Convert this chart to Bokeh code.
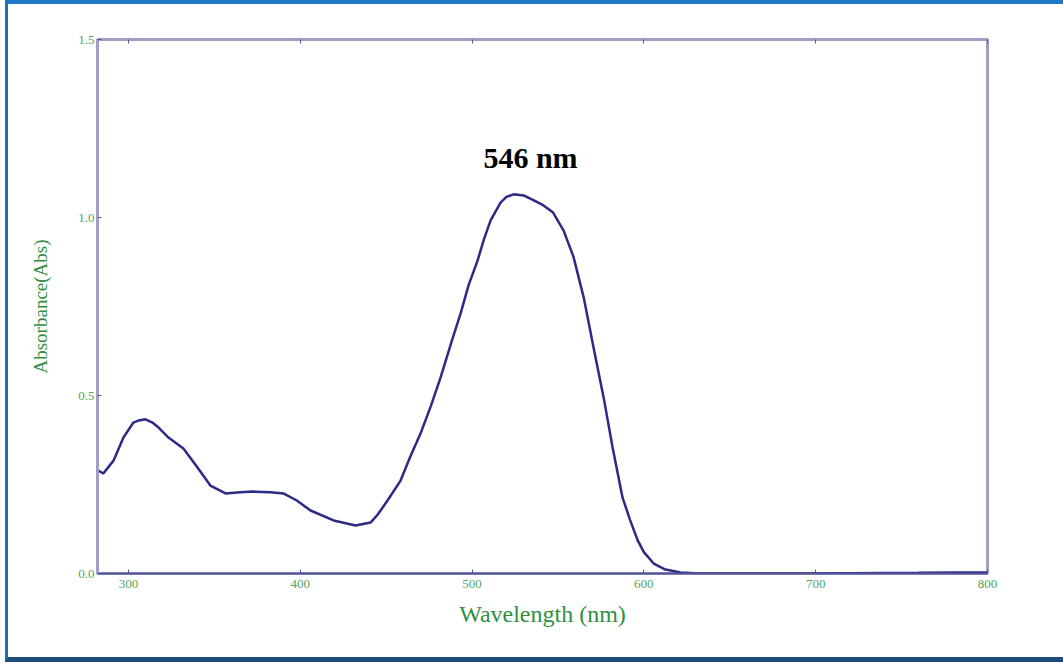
from bokeh.plotting import figure
from bokeh.layouts import column
from bokeh.models import (Range1d, FixedTicker, LinearAxis, Label, NumeralTickFormatter)
from bokeh.embed import file_html
from bokeh.resources import INLINE

# Data
wavelength = [282.5, 285.4, 291.3, 297.1, 302.9, 306.0, 309.9, 314.0, 318.0, 323.3,
              332.0, 340.2, 347.7, 356.5, 365.0, 372.8, 382.7, 390.2, 398.0, 406.0,
              419.4, 432.2, 440.9, 445.0, 450.8, 458.4, 464.2, 470.0, 476.0, 481.7,
              488.0, 493.3, 498.0, 503.2, 507.0, 510.8, 516.6, 520.0, 524.2, 530.0,
              536.0, 541.6, 547.0, 553.3, 559.0, 565.0, 570.7, 576.6, 581.8, 587.6,
              592.0, 596.4, 600.0, 605.7, 612.0, 621.4, 630.0, 640.0, 700.0, 760.0,
              780.0, 800.0]
absorbance = [0.289, 0.281, 0.317, 0.382, 0.424, 0.430, 0.433, 0.424, 0.408, 0.382,
              0.351, 0.298, 0.247, 0.225, 0.228, 0.230, 0.228, 0.225, 0.205, 0.177,
              0.149, 0.135, 0.143, 0.165, 0.205, 0.261, 0.330, 0.393, 0.470, 0.551,
              0.650, 0.730, 0.810, 0.879, 0.940, 0.992, 1.042, 1.058, 1.065, 1.062,
              1.048, 1.034, 1.015, 0.963, 0.890, 0.775, 0.635, 0.494, 0.354, 0.213,
              0.150, 0.093, 0.060, 0.028, 0.012, 0.003, 0.001, 0.000, 0.000, 0.002,
              0.003, 0.003]
x_ticks = [300, 400, 500, 600, 700, 800]
y_ticks = [0.0, 0.5, 1.0, 1.5]
peak_label = "546 nm"

SERIF = "Liberation Serif"
GREEN = "#2f8f3f"
TICK_GREEN = "#4fa85c"
LAVENDER = "#a09ec6"
AXIS_DARK = "#55559a"

p = figure(width=1055, height=653, output_backend="svg", toolbar_location=None,
           x_range=Range1d(282, 800), y_range=Range1d(0, 1.5),
           min_border_left=89, min_border_right=76, min_border_top=35,
           min_border_bottom=84, x_axis_label="Wavelength (nm)",
           y_axis_label="Absorbance(Abs)")
p.grid.visible = False
p.outline_line_color = LAVENDER
p.outline_line_width = 3
p.background_fill_color = "white"
p.border_fill_color = "white"

xa = p.xaxis[0]
xa.ticker = FixedTicker(ticks=x_ticks)
xa.axis_line_color = AXIS_DARK
xa.axis_line_width = 2
xa.major_tick_in = 4
xa.major_tick_out = 0
xa.major_tick_line_color = AXIS_DARK
xa.minor_tick_line_color = None
xa.major_label_text_font = SERIF
xa.major_label_text_font_size = "13px"
xa.major_label_text_color = TICK_GREEN
xa.major_label_standoff = 6
xa.axis_label_text_font = SERIF
xa.axis_label_text_font_style = "normal"
xa.axis_label_text_font_size = "24px"
xa.axis_label_text_color = GREEN
xa.axis_label_standoff = 10

ya = p.yaxis[0]
ya.ticker = FixedTicker(ticks=y_ticks)
ya.formatter = NumeralTickFormatter(format="0.0")
ya.axis_line_color = LAVENDER
ya.axis_line_width = 3
ya.major_tick_in = 4
ya.major_tick_out = 0
ya.major_tick_line_color = AXIS_DARK
ya.minor_tick_line_color = None
ya.major_label_text_font = SERIF
ya.major_label_text_font_size = "13px"
ya.major_label_text_color = TICK_GREEN
ya.major_label_standoff = 3
ya.axis_label_text_font = SERIF
ya.axis_label_text_font_style = "normal"
ya.axis_label_text_font_size = "19px"
ya.axis_label_text_color = GREEN
ya.axis_label_standoff = 24

top = LinearAxis(ticker=FixedTicker(ticks=x_ticks), major_label_text_color=None,
                 axis_line_color=None, major_tick_in=4, major_tick_out=0,
                 major_tick_line_color=AXIS_DARK, minor_tick_line_color=None)
p.add_layout(top, "above")

p.line(wavelength, absorbance, line_color="#2b2b86", line_width=2.5)

p.add_layout(Label(x=534, y=1.168, text=peak_label, text_font=SERIF,
                   text_font_size="30px", text_font_style="bold",
                   text_color="black", text_align="center",
                   text_baseline="middle"))

# Outer picture frame (blue border of the original figure)
layout = column(p, styles={"border-top": "4px solid #1f78c8",
                           "border-left": "3px solid #1f6fb8",
                           "border-bottom": "5px solid #1c4d7c",
                           "margin-left": "5px",
                           "background-color": "white"})

open("out.html", "w").write(file_html(layout, INLINE))
